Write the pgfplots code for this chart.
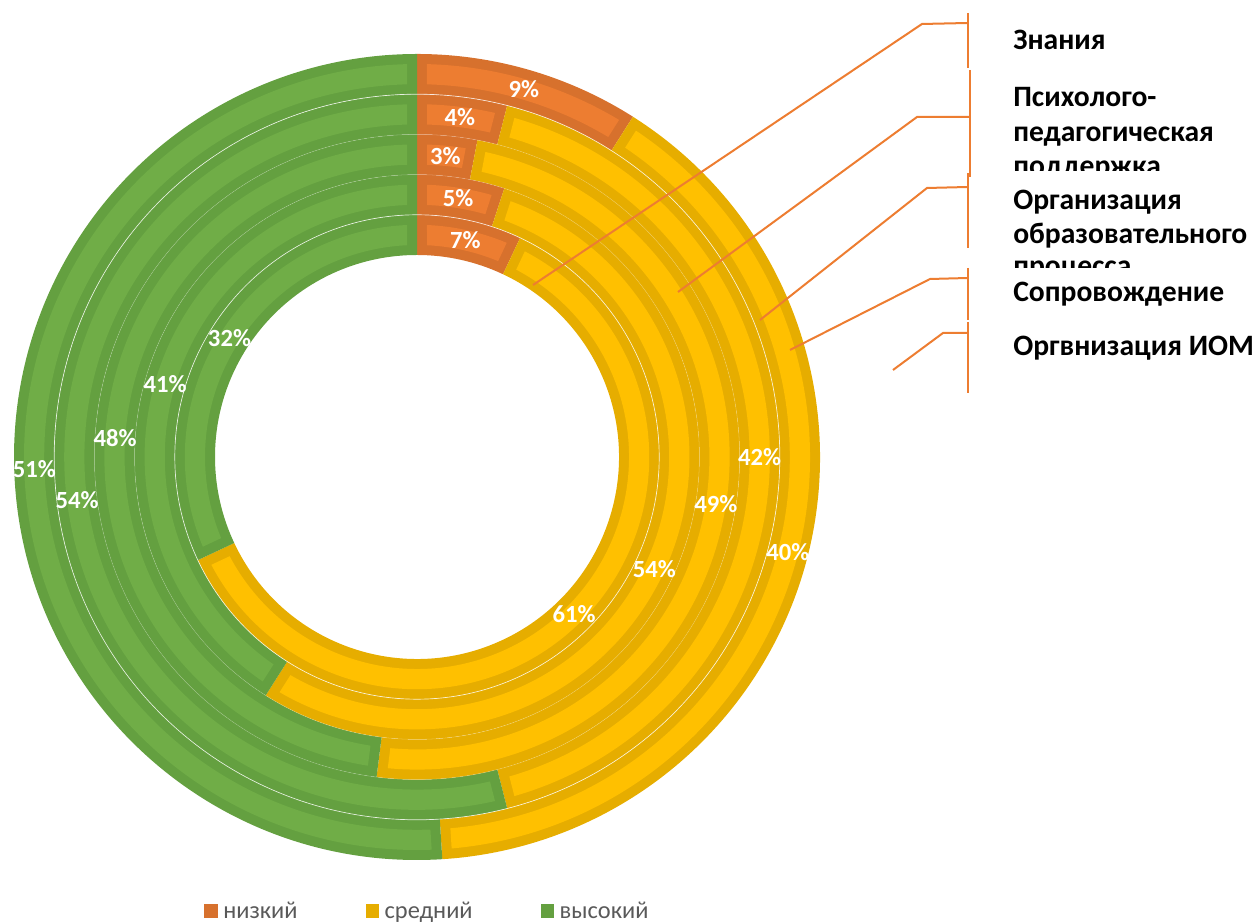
\documentclass[border=0pt]{standalone}
\usepackage{pgfplots}
\pgfplotsset{compat=1.18}
\usepackage{pgfplotstable}
\usepackage{fontspec}
\setmainfont{Carlito}

\definecolor{lowL}{HTML}{ED7D31}
\definecolor{lowD}{HTML}{D7712D}
\definecolor{midL}{HTML}{FFC000}
\definecolor{midD}{HTML}{E6AD00}
\definecolor{highL}{HTML}{70AD47}
\definecolor{highD}{HTML}{64A040}
\definecolor{leader}{HTML}{ED7D31}
\definecolor{textgray}{HTML}{595959}

% rings from outer to inner: low, mid, high (percent)
\pgfplotstableread{
ring low mid high
1 9 40 51
2 4 42 54
3 3 49 48
4 5 54 41
5 7 61 32
}\rings

% #1 r_in, #2 r_out, #3 start pct, #4 end pct, #5 colour
\newcommand\seg[5]{%
  \pgfmathsetmacro\aS{90-3.6*#3}%
  \pgfmathsetmacro\aE{90-3.6*#4}%
  \fill[#5D] (\aS:#2) arc[start angle=\aS,end angle=\aE,radius=#2] -- (\aE:#1) arc[start angle=\aE,end angle=\aS,radius=#1] -- cycle;
  \pgfmathsetmacro\ri{#1+10}%
  \pgfmathsetmacro\ro{#2-10}%
  \pgfmathsetmacro\aSo{\aS-asin(10/\ro)}%
  \pgfmathsetmacro\aEo{\aE+asin(10/\ro)}%
  \pgfmathsetmacro\aSi{\aS-asin(10/\ri)}%
  \pgfmathsetmacro\aEi{\aE+asin(10/\ri)}%
  \fill[#5L] (\aSo:\ro) arc[start angle=\aSo,end angle=\aEo,radius=\ro] -- (\aEi:\ri) arc[start angle=\aEi,end angle=\aSi,radius=\ri] -- cycle;
}
\newcommand\ringline[3]{% #1 radius, #2 width, #3 opacity
  \draw[white, line width=#2, opacity=#3] (90:#1) arc[start angle=90,end angle=-270,radius=#1];
}

\begin{document}
\begin{tikzpicture}
\begin{axis}[
  x=0.75pt, y=0.75pt,
  xmin=0, xmax=1255, ymin=0, ymax=923,
  hide axis, clip=false,
  legend columns=3,
  legend cell align=left,
  legend image code/.code={\fill[#1] (0pt,-4.7pt) rectangle (9.4pt,4.7pt);},
  legend style={draw=none, fill=none, at={(axis cs:200,12)}, anchor=west,
    font=\fontsize{18.3}{21}\selectfont, text=textgray,
    nodes={inner sep=2.5pt},
    /tikz/every odd column/.append style={column sep=2pt},
    /tikz/every even column/.append style={column sep=48.5pt}},
]
\addlegendimage{lowD}\addlegendentry{низкий}
\addlegendimage{midD}\addlegendentry{средний}
\addlegendimage{highD}\addlegendentry{высокий}

\coordinate (BL) at (axis cs:0,0);
\coordinate (TR) at (axis cs:1255,923);

\pgfplotsextra{
\begin{scope}[shift={(axis cs:417,466)}, x=0.75pt, y=0.75pt]
  \pgfplotsforeachungrouped\i in {0,...,4}{%
    \pgfplotstablegetelem{\i}{low}\of\rings \let\vL\pgfplotsretval
    \pgfplotstablegetelem{\i}{mid}\of\rings \let\vM\pgfplotsretval
    \pgfplotstablegetelem{\i}{high}\of\rings \let\vH\pgfplotsretval
    \pgfmathsetmacro\rO{403-40.2*\i}%
    \pgfmathsetmacro\rI{\rO-40.2}%
    \pgfmathsetmacro\cA{\vL}%
    \pgfmathsetmacro\cB{\vL+\vM}%
    \seg{\rI}{\rO}{0}{\cA}{low}
    \seg{\rI}{\rO}{\cA}{\cB}{mid}
    \seg{\rI}{\rO}{\cB}{100}{high}
  }
  % thin separators
  \ringline{362.8}{0.5pt}{0.8}
  \ringline{242.2}{0.5pt}{0.8}
  \ringline{322.6}{0.4pt}{0.25}
  \ringline{282.4}{0.4pt}{0.25}
  % labels
  \pgfplotsforeachungrouped\i in {0,...,4}{%
    \pgfplotstablegetelem{\i}{low}\of\rings \let\vL\pgfplotsretval
    \pgfplotstablegetelem{\i}{mid}\of\rings \let\vM\pgfplotsretval
    \pgfplotstablegetelem{\i}{high}\of\rings \let\vH\pgfplotsretval
    \pgfmathsetmacro\rM{403-40.2*\i-20.1}%
    \pgfmathsetmacro\mA{90-3.6*\vL/2}%
    \pgfmathsetmacro\mB{90-3.6*(\vL+\vM/2)}%
    \pgfmathsetmacro\mC{90-3.6*(\vL+\vM+\vH/2)}%
    \node[text=white, font=\bfseries\fontsize{18.5}{21}\selectfont, inner sep=0pt] at (\mA:\rM) {\vL\%};
    \node[text=white, font=\bfseries\fontsize{18.5}{21}\selectfont, inner sep=0pt] at (\mB:\rM) {\vM\%};
    \node[text=white, font=\bfseries\fontsize{18.5}{21}\selectfont, inner sep=0pt] at (\mC:\rM) {\vH\%};
  }
\end{scope}

% leader lines
\begin{scope}[leader, line width=1.5pt]
\draw (axis cs:533,638) -- (axis cs:922,899) -- (axis cs:968,900);
\draw (axis cs:968,910) -- (axis cs:968,855);
\draw (axis cs:678,631) -- (axis cs:917,806) -- (axis cs:969,806);
\draw (axis cs:970,853) -- (axis cs:970,746);
\draw (axis cs:760,603) -- (axis cs:927,735) -- (axis cs:968,736);
\draw (axis cs:968,750) -- (axis cs:968,675);
\draw (axis cs:790,573) -- (axis cs:930,644) -- (axis cs:968,645);
\draw (axis cs:968,655) -- (axis cs:968,603);
\draw (axis cs:893,553) -- (axis cs:943,590) -- (axis cs:968,590);
\draw (axis cs:968,601) -- (axis cs:968,530);
\end{scope}

% category labels
\begin{scope}[every node/.style={anchor=base west, inner sep=0pt, font=\bfseries\fontsize{22.2}{26}\selectfont}]
\node at (axis cs:1013,873) {Знания};
\node at (axis cs:1013,816) {Психолого-};
\node at (axis cs:1013,781) {педагогическая};
\begin{scope}
\clip (axis cs:1000,752) rectangle (axis cs:1255,775);
\node at (axis cs:1013,747) {поддержка};
\end{scope}
\node at (axis cs:1013,713) {Организация};
\node at (axis cs:1013,679) {образовательного};
\begin{scope}
\clip (axis cs:1000,655) rectangle (axis cs:1255,675);
\node at (axis cs:1013,647) {процесса};
\end{scope}
\node at (axis cs:1013,621) {Сопровождение};
\node at (axis cs:1013,567) {Оргвнизация ИОМ};
\end{scope}
}
\end{axis}
\pgfresetboundingbox
\path (BL) rectangle (TR);
\end{tikzpicture}
\end{document}
